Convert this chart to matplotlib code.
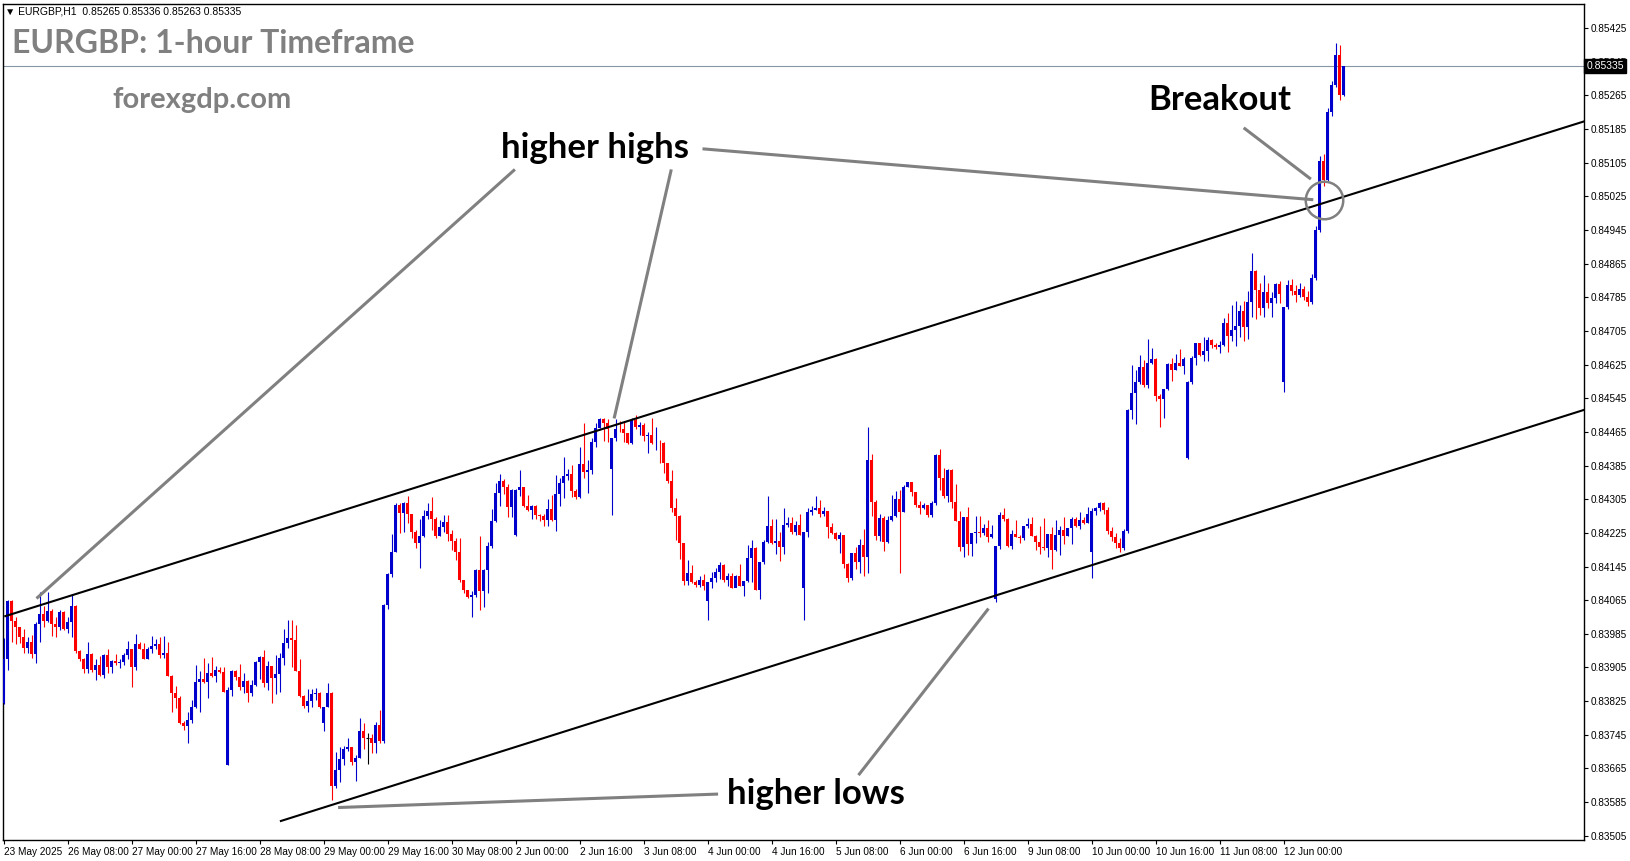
import matplotlib
matplotlib.use("Agg")
import matplotlib.pyplot as plt
import matplotlib.transforms as mtransforms
import numpy as np

W, H = 1631, 861

# hourly EURGBP candles, price = 0.8 + n / 100000 (one row = 16 bars)
closes = [
    3924, 4063, 4016, 4000, 3978, 3952, 3965, 3936, 4008, 4032, 4016, 4039, 4008, 4002, 4037, 3997,
    4013, 4051, 3945, 3926, 3902, 3936, 3899, 3910, 3887, 3935, 3907, 3920, 3915, 3918, 3935, 3949,
    3907, 3960, 3950, 3925, 3949, 3956, 3961, 3935, 3940, 3885, 3845, 3832, 3774, 3767, 3779, 3810,
    3870, 3877, 3871, 3891, 3885, 3899, 3895, 3847, 3851, 3897, 3883, 3859, 3873, 3845, 3863, 3918,
    3930, 3869, 3908, 3881, 3889, 3927, 3962, 3974, 3971, 3897, 3838, 3814, 3826, 3842, 3844, 3810,
    3810, 3845, 3623, 3661, 3687, 3711, 3717, 3681, 3690, 3754, 3738, 3738, 3726, 3768, 3729, 4053,
    4127, 4179, 4291, 4273, 4295, 4269, 4228, 4202, 4218, 4264, 4277, 4257, 4217, 4240, 4250, 4222,
    4206, 4180, 4113, 4089, 4073, 4077, 4137, 4087, 4137, 4194, 4252, 4319, 4348, 4335, 4287, 4327,
    4327, 4333, 4289, 4279, 4289, 4267, 4265, 4255, 4281, 4255, 4317, 4344, 4360, 4365, 4324, 4311,
    4389, 4370, 4374, 4441, 4475, 4495, 4485, 4473, 4450, 4473, 4471, 4462, 4439, 4493, 4477, 4481,
    4456, 4458, 4438, 4439, 4438, 4390, 4349, 4285, 4265, 4202, 4111, 4129, 4107, 4101, 4113, 4099,
    4107, 4118, 4133, 4149, 4113, 4123, 4095, 4123, 4099, 4111, 4166, 4190, 4089, 4156, 4204, 4241,
    4201, 4206, 4192, 4244, 4249, 4228, 4244, 4221, 4226, 4275, 4279, 4285, 4270, 4277, 4240, 4224,
    4210, 4220, 4151, 4117, 4176, 4155, 4196, 4168, 4398, 4299, 4217, 4260, 4204, 4255, 4265, 4305,
    4275, 4333, 4345, 4321, 4291, 4285, 4291, 4267, 4295, 4410, 4356, 4313, 4374, 4299, 4254, 4192,
    4262, 4198, 4225, 4228, 4225, 4237, 4214, 4222, 4194, 4267, 4257, 4194, 4222, 4216, 4212, 4241,
    4246, 4218, 4204, 4192, 4190, 4222, 4184, 4220, 4232, 4218, 4236, 4259, 4241, 4255, 4249, 4270,
    4277, 4283, 4295, 4279, 4230, 4215, 4200, 4190, 4229, 4517, 4557, 4583, 4620, 4576, 4628, 4638,
    4551, 4543, 4566, 4626, 4611, 4630, 4622, 4638, 4584, 4641, 4676, 4648, 4657, 4683, 4672, 4666,
    4672, 4723, 4693, 4707, 4717, 4752, 4715, 4775, 4848, 4802, 4760, 4798, 4771, 4783, 4817, 4792,
    4763, 4814, 4800, 4790, 4805, 4785, 4775, 4830, 4945, 5110, 5065, 5225, 5290, 5360, 5265, 5335,
]
highs = [
    3974, 4066, 4066, 4026, 4002, 3996, 3978, 3982, 4014, 4084, 4050, 4085, 4045, 4026, 4042, 4040,
    4026, 4077, 4053, 3947, 3928, 3965, 3940, 3925, 3932, 3938, 3950, 3922, 3936, 3925, 3939, 3968,
    3949, 3984, 3965, 3962, 3954, 3980, 3973, 3978, 3980, 3965, 3888, 3862, 3838, 3778, 3799, 3828,
    3910, 3897, 3928, 3916, 3930, 3908, 3907, 3906, 3858, 3898, 3899, 3913, 3891, 3876, 3875, 3920,
    3932, 3946, 3920, 3908, 3935, 3939, 3996, 4018, 4018, 4006, 3924, 3840, 3853, 3853, 3855, 3846,
    3812, 3869, 3847, 3703, 3717, 3718, 3738, 3717, 3697, 3784, 3774, 3748, 3746, 3776, 3804, 4056,
    4129, 4222, 4295, 4295, 4299, 4313, 4271, 4232, 4257, 4279, 4295, 4311, 4263, 4256, 4267, 4267,
    4232, 4212, 4212, 4113, 4090, 4087, 4140, 4217, 4140, 4204, 4281, 4344, 4366, 4352, 4341, 4330,
    4330, 4374, 4335, 4315, 4292, 4291, 4271, 4270, 4305, 4315, 4362, 4356, 4406, 4376, 4386, 4330,
    4430, 4485, 4398, 4450, 4485, 4497, 4497, 4495, 4450, 4495, 4491, 4489, 4462, 4497, 4505, 4488,
    4485, 4465, 4497, 4477, 4446, 4442, 4390, 4375, 4307, 4268, 4202, 4160, 4149, 4113, 4123, 4127,
    4109, 4131, 4141, 4155, 4150, 4130, 4130, 4125, 4152, 4111, 4196, 4208, 4192, 4156, 4208, 4313,
    4259, 4259, 4228, 4283, 4263, 4262, 4254, 4271, 4228, 4283, 4289, 4313, 4302, 4286, 4277, 4249,
    4228, 4226, 4216, 4154, 4176, 4192, 4210, 4234, 4476, 4412, 4302, 4270, 4264, 4265, 4315, 4324,
    4328, 4339, 4345, 4347, 4321, 4301, 4297, 4291, 4301, 4412, 4424, 4380, 4378, 4378, 4341, 4277,
    4262, 4286, 4225, 4266, 4265, 4245, 4255, 4244, 4194, 4275, 4285, 4260, 4232, 4255, 4220, 4241,
    4260, 4262, 4220, 4241, 4261, 4222, 4240, 4256, 4241, 4263, 4236, 4263, 4263, 4275, 4263, 4286,
    4285, 4286, 4298, 4299, 4286, 4240, 4225, 4212, 4235, 4520, 4624, 4612, 4648, 4636, 4686, 4664,
    4641, 4556, 4566, 4628, 4641, 4650, 4662, 4644, 4586, 4645, 4677, 4677, 4690, 4690, 4686, 4677,
    4682, 4735, 4747, 4767, 4777, 4767, 4776, 4800, 4891, 4850, 4818, 4838, 4818, 4798, 4818, 4824,
    4763, 4825, 4828, 4815, 4820, 4812, 4800, 4840, 4955, 5120, 5125, 5235, 5300, 5390, 5385, 5336,
]
lows = [
    3818, 3900, 3966, 3960, 3962, 3940, 3939, 3927, 3916, 3966, 4000, 4014, 3980, 3978, 3993, 3993,
    3988, 3978, 3939, 3920, 3893, 3893, 3895, 3875, 3885, 3881, 3891, 3891, 3911, 3903, 3911, 3925,
    3859, 3899, 3949, 3925, 3925, 3939, 3950, 3927, 3927, 3885, 3798, 3809, 3771, 3756, 3725, 3774,
    3808, 3798, 3869, 3832, 3883, 3870, 3891, 3847, 3673, 3836, 3875, 3852, 3844, 3824, 3836, 3860,
    3877, 3859, 3851, 3820, 3843, 3847, 3912, 3951, 3905, 3897, 3834, 3808, 3798, 3812, 3828, 3808,
    3755, 3810, 3591, 3618, 3633, 3673, 3707, 3673, 3636, 3689, 3710, 3675, 3701, 3701, 3725, 3726,
    4043, 4121, 4179, 4224, 4228, 4249, 4212, 4190, 4141, 4216, 4257, 4232, 4213, 4217, 4228, 4206,
    4184, 4160, 4109, 4081, 4070, 4024, 4073, 4041, 4049, 4083, 4190, 4250, 4289, 4317, 4263, 4263,
    4218, 4313, 4287, 4277, 4257, 4257, 4252, 4242, 4241, 4253, 4230, 4289, 4309, 4350, 4311, 4305,
    4309, 4355, 4320, 4365, 4430, 4474, 4444, 4441, 4267, 4443, 4465, 4442, 4436, 4437, 4473, 4458,
    4444, 4414, 4436, 4423, 4390, 4367, 4343, 4275, 4208, 4163, 4101, 4101, 4105, 4096, 4097, 4089,
    4018, 4095, 4107, 4115, 4107, 4099, 4093, 4099, 4099, 4075, 4109, 4109, 4089, 4068, 4150, 4202,
    4198, 4175, 4157, 4175, 4240, 4222, 4220, 4220, 4018, 4214, 4268, 4279, 4262, 4264, 4213, 4222,
    4208, 4178, 4141, 4107, 4113, 4138, 4130, 4123, 4129, 4265, 4207, 4206, 4183, 4202, 4252, 4262,
    4129, 4274, 4333, 4313, 4287, 4271, 4281, 4262, 4263, 4291, 4328, 4309, 4299, 4285, 4254, 4183,
    4168, 4172, 4171, 4202, 4216, 4221, 4204, 4212, 4060, 4187, 4254, 4192, 4187, 4214, 4202, 4208,
    4236, 4217, 4184, 4175, 4184, 4168, 4139, 4183, 4172, 4198, 4218, 4199, 4240, 4234, 4246, 4249,
    4118, 4268, 4278, 4269, 4222, 4205, 4190, 4180, 4185, 4225, 4495, 4484, 4578, 4571, 4570, 4626,
    4539, 4477, 4499, 4565, 4587, 4611, 4622, 4603, 4400, 4579, 4624, 4645, 4634, 4634, 4664, 4661,
    4653, 4670, 4656, 4682, 4669, 4690, 4681, 4687, 4737, 4733, 4743, 4737, 4760, 4737, 4772, 4772,
    4559, 4758, 4790, 4775, 4785, 4778, 4765, 4770, 4825, 4940, 5050, 5060, 5215, 5285, 5255, 5263,
]
# bars whose open is not the previous close (first bar, rollover spikes)
open_gaps = {0: 3820, 56: 3673, 80: 3772, 128: 4220, 152: 4378, 176: 4063, 200: 4095,
             248: 4067, 272: 4180, 296: 4403, 320: 4584}

tick_labels = ["23 May 2025", "26 May 08:00", "27 May 00:00", "27 May 16:00", "28 May 08:00",
               "29 May 00:00", "29 May 16:00", "30 May 08:00", "2 Jun 00:00", "2 Jun 16:00",
               "3 Jun 08:00", "4 Jun 00:00", "4 Jun 16:00", "5 Jun 08:00", "6 Jun 00:00",
               "6 Jun 16:00", "9 Jun 08:00", "10 Jun 00:00", "10 Jun 16:00", "11 Jun 08:00",
               "12 Jun 00:00"]
bars_per_tick = 16
price_ticks = [0.83505 + 0.0008 * k for k in range(25)]
last_price = 0.85335

c = 0.8 + np.array(closes) / 1e5
h = 0.8 + np.array(highs) / 1e5
l = 0.8 + np.array(lows) / 1e5
o = np.r_[c[0], c[:-1]]
for k, v in open_gaps.items():
    o[k] = 0.8 + v / 1e5
x = np.arange(len(c))

fig = plt.figure(figsize=(W / 100, H / 100), dpi=100)
ax = fig.add_axes([3 / W, 1 - 840 / H, 1581 / W, 836 / H])

BLUE, RED = "#0000cd", "#ff0000"
cols = np.where(c > o, BLUE, np.where(c < o, RED, "black"))
ax.vlines(x, l, h, colors=cols, lw=0.8, zorder=3)
body = np.abs(c - o)
ax.bar(x, body, bottom=np.minimum(o, c), width=0.72, color=cols, lw=0, zorder=3)
doji = body == 0
ax.hlines(c[doji], x[doji] - 0.4, x[doji] + 0.4, colors="black", lw=0.8, zorder=3)

# channel lines
ax.plot([0.4, 395], [0.84027, 0.84027 + 0.0000298 * 394.6], color="black", lw=1.5, zorder=4)
ax.plot([69.3, 395], [0.83540, 0.83540 + 0.0000300 * 325.7], color="black", lw=1.5, zorder=4)

# annotation pointers
GRAY = "#808080"
for (x0, y0, x1, y1) in [(127.8, 0.85089, 8.2, 0.84069),
                         (166.9, 0.85089, 152.6, 0.84497),
                         (174.7, 0.85138, 327.4, 0.85017),
                         (310.0, 0.85188, 326.8, 0.85066),
                         (178.6, 0.83604, 83.6, 0.83572),
                         (213.7, 0.83649, 246.2, 0.84045)]:
    ax.plot([x0, x1], [y0, y1], color=GRAY, lw=2.2, solid_capstyle="butt", zorder=5)
ax.plot([330.0], [0.85017], "o", ms=27, mfc="none", mec=GRAY, mew=1.8, zorder=5)

bold = dict(family=["Lato", "DejaVu Sans"], weight="bold")
ax.text(147.8, 0.85140, "higher highs", ha="center", va="center", color="black", zorder=6,
        fontsize=25, **bold)
ax.text(304, 0.85254, "Breakout", ha="center", va="center", color="black", zorder=6,
        fontsize=25, **bold)
ax.text(203, 0.83604, "higher lows", ha="center", va="center", color="black", zorder=6,
        fontsize=25, **bold)

fig.text(12.5 / W, 1 - 43.5 / H, "EURGBP: 1-hour Timeframe", ha="left", va="center",
         color=GRAY, fontsize=23, **bold)
fig.text(112 / W, 1 - 100 / H, "forexgdp.com", ha="left", va="center", color=GRAY,
         fontsize=21, **bold)

small = ["Liberation Sans", "DejaVu Sans"]
fig.text(5 / W, 1 - 11 / H, "\u25bc EURGBP,H1  0.85265 0.85336 0.85263 0.85335", ha="left",
         va="center", color="black", fontsize=7.5, family=small)

# current price line and label
ax.axhline(last_price, color="#8896a4", lw=0.8, zorder=2)
trans = mtransforms.blended_transform_factory(ax.transAxes, ax.transData)
ax.text(1.0015, last_price, "%.5f" % last_price, transform=trans, ha="left", va="center",
        color="white", fontsize=7.5, family=small, zorder=10, clip_on=False,
        bbox=dict(boxstyle="square,pad=0.2", fc="black", ec="black"))

ax.set_xlim(-0.175, 395.08)
ax.set_ylim(0.834948, 0.854823)
ax.yaxis.tick_right()
ax.set_yticks(price_ticks)
ax.set_yticklabels(["%.5f" % p for p in price_ticks], family=small)
ax.set_xticks([k * bars_per_tick for k in range(len(tick_labels))])
ax.set_xticklabels(tick_labels, ha="left", family=small)
ax.tick_params(axis="both", labelsize=7.2, length=3, width=0.8, color="black", pad=2)
for sp in ax.spines.values():
    sp.set_linewidth(1.0)

fig.savefig("out.png", dpi=100)
